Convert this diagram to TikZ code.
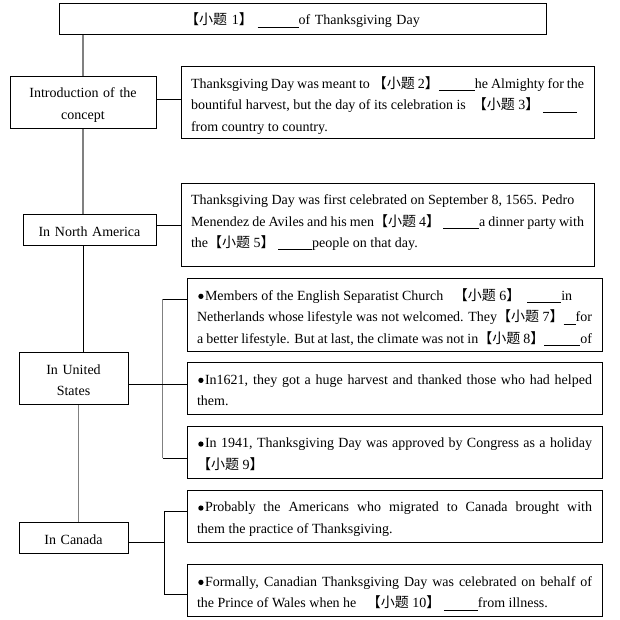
\documentclass[tikz,border=0pt]{standalone}
\usepackage{fontspec}
\setmainfont{Liberation Serif}
\newfontfamily\cjk{Noto Sans CJK SC}
\newcommand\xt[1]{{\cjk 【小题} #1{\cjk 】}}
\newcommand\bl[1]{\rule[-2.5pt]{#1pt}{0.7pt}}
\newcommand\bul{\tikz[baseline=0pt,x=1pt,y=1pt]{\useasboundingbox (0,0) rectangle (8,7); \fill[black] (3.9,3.9) circle (2.65);}}
\tikzset{
  basebox/.style={draw, line width=0.9pt, inner xsep=10pt, inner ysep=0pt, anchor=north,
    font=\fontsize{14pt}{21.5pt}\selectfont, text height=21.5pt, text depth=#1pt-21.5pt},
  lbl/.style 2 args={basebox=#2, align=center, inner xsep=0pt, text width=#1pt},
  txt/.style 2 args={basebox=#2, text width=#1pt, align=justify},
  glink/.style={draw=black!50, line width=1.5pt},
  blink/.style={draw=black, line width=0.9pt}
}
\begin{document}
\begin{tikzpicture}[x=1pt,y=-1pt]
\useasboundingbox[fill=white] (0,0) rectangle (619,620);
% nodes (anchor = top centre of each box)
\node[lbl={487}{31.3}] (title) at (302.5,3) {\xt{1} \bl{41}of Thanksgiving Day};
\node[lbl={146}{52}] (intro) at (83,76) {Introduction of the\\concept};
\node[txt={393}{72}] (introtext) at (387.5,66.3) {Thanksgiving Day was meant to \xt{2}\bl{36}he Almighty for the\linebreak bountiful harvest, but the day of its celebration is \ \xt{3} \bl{34}\\from country to country.};
\node[lbl={133}{31}] (na) at (89.5,214.3) {In North America};
\node[txt={393}{83.6}] (natext) at (387.5,182.7) {Thanksgiving Day was first celebrated on September 8, 1565. Pedro\\Menendez de Aviles and his men\xt{4} \bl{36}a dinner party with\linebreak the\xt{5} \bl{34}people on that day.};
\node[lbl={109}{52}] (us) at (73.5,352.3) {In United\\States};
\node[txt={395}{72.7}] (b6) at (394.5,278.3) {\parfillskip=0pt \bul Members of the English Separatist Church \ \ \xt{6} \ \bl{34}in\\Netherlands whose lifestyle was not welcomed. They\xt{7}\bl{12}for\linebreak a better lifestyle. But at last, the climate was not in\xt{8}\bl{36}of};
\node[txt={395}{52}] (b7) at (394.5,362.3) {\bul In1621, they got a huge harvest and thanked those who had helped\linebreak them.};
\node[txt={395}{52.3}] (b9) at (394.5,426) {\bul In 1941, Thanksgiving Day was approved by Congress as a holiday\linebreak \xt{9}};
\node[lbl={109}{31}] (ca) at (73.5,522.3) {In Canada};
\node[txt={395}{52.3}] (c1) at (394.5,490) {\bul Probably the Americans who migrated to Canada brought with\linebreak them the practice of Thanksgiving.};
\node[txt={395}{52}] (c2) at (394.5,564.3) {\bul Formally, Canadian Thanksgiving Day was celebrated on behalf of\linebreak the Prince of Wales when he \ \ \xt{10} \bl{34}from illness.};
% trunk
\draw[glink] (intro.north) -- (intro.north |- title.south);
\draw[glink] (intro.south) -- (intro.south |- na.north);
\draw[blink] (intro.south |- na.south) -- (intro.south |- us.north);
\draw[glink] ([xshift=4.8pt]us.south) -- ([xshift=4.8pt]us.south |- ca.north);
% branches
\draw[blink] ([yshift=3.3pt]intro.east) -- ([yshift=3.3pt]intro.east -| introtext.west);
\draw[blink] (natext.west) -- (natext.west -| na.east);
\coordinate (ubt) at (162.5,299);
\coordinate (ubb) at (162.5,458);
\draw[glink, line width=1.2pt] (ubt) -- (ubb);
\draw[blink] ([yshift=-6pt]us.east) -- ([yshift=-6pt]us.east -| b7.west);
\draw[blink] (ubt) -- (ubt -| b6.west);
\draw[blink] (ubb) -- (ubb -| b9.west);
\coordinate (cbt) at (164,511.3);
\coordinate (cbb) at (164,594.3);
\draw[blink] ([yshift=-4.3pt]ca.east) -- ([yshift=-4.3pt]ca.east -| cbt);
\draw[blink] (cbt) -- (cbb);
\draw[blink] (cbt) -- (cbt -| c1.west);
\draw[blink] (cbb) -- (cbb -| c2.west);
\end{tikzpicture}
\end{document}
